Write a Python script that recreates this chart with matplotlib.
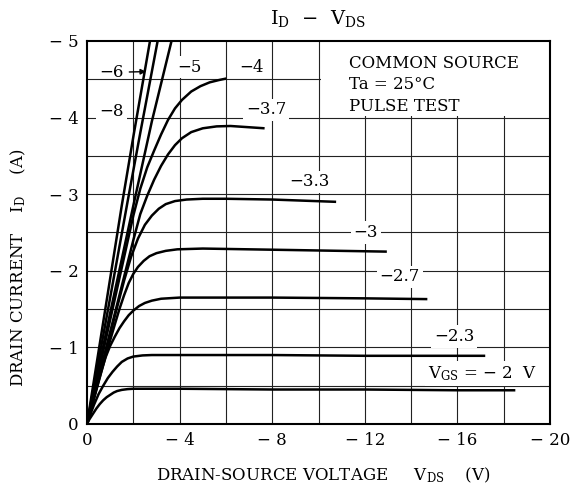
import matplotlib
matplotlib.use('Agg')
import matplotlib.pyplot as plt
from matplotlib.patches import Rectangle

plt.rcParams['font.family'] = 'DejaVu Serif'
plt.rcParams['mathtext.fontset'] = 'dejavuserif'

# Кривые I_D(V_DS), значения по модулю (V, A)
v_2 = [0, 0.1, 0.25, 0.4, 0.55, 0.7, 0.85, 1.0, 1.15, 1.3, 1.5, 1.75, 2.0, 3, 4, 8, 12, 16, 18.5]
i_2 = [0, 0.06, 0.13, 0.2, 0.26, 0.31, 0.35, 0.38, 0.41, 0.43, 0.445, 0.455, 0.46, 0.46, 0.46,
       0.45, 0.45, 0.44, 0.44]

v_23 = [0, 0.15, 0.3, 0.5, 0.7, 0.9, 1.1, 1.3, 1.5, 1.75, 2.0, 2.4, 2.8, 4, 8, 12, 17.2]
i_23 = [0, 0.13, 0.25, 0.39, 0.50, 0.60, 0.68, 0.75, 0.81, 0.855, 0.88, 0.895, 0.90, 0.90,
        0.90, 0.89, 0.89]

v_27 = [0, 0.2, 0.4, 0.6, 0.8, 1.0, 1.2, 1.4, 1.6, 1.8, 2.0, 2.25, 2.5, 2.8, 3.2, 4, 8, 12, 14.7]
i_27 = [0, 0.23, 0.45, 0.67, 0.87, 1.02, 1.14, 1.25, 1.34, 1.42, 1.48, 1.54, 1.58, 1.61, 1.635,
        1.65, 1.65, 1.64, 1.63]

v_3 = [0, 0.3, 0.6, 0.9, 1.2, 1.4, 1.6, 1.8, 2.0, 2.2, 2.45, 2.7, 3.0, 3.4, 3.9, 5, 9, 12.95]
i_3 = [0, 0.33, 0.66, 0.99, 1.30, 1.50, 1.68, 1.84, 1.96, 2.05, 2.13, 2.19, 2.23, 2.26, 2.28,
       2.29, 2.27, 2.25]

v_33 = [0, 0.4, 0.8, 1.2, 1.6, 1.9, 2.2, 2.5, 2.8, 3.1, 3.4, 3.8, 4.3, 5, 6, 8, 10.76]
i_33 = [0, 0.47, 0.94, 1.41, 1.87, 2.18, 2.42, 2.60, 2.72, 2.81, 2.87, 2.91, 2.93, 2.94, 2.94,
        2.93, 2.90]

v_37 = [0, 0.5, 1.0, 1.5, 2.0, 2.3, 2.6, 2.9, 3.2, 3.5, 3.8, 4.1, 4.5, 5.0, 5.6, 6.2, 7.67]
i_37 = [0, 0.6, 1.2, 1.8, 2.40, 2.74, 2.98, 3.19, 3.37, 3.52, 3.64, 3.73, 3.81, 3.86, 3.885,
        3.89, 3.86]

v_4 = [0, 0.5, 1.0, 1.5, 2.0, 2.3, 2.6, 2.9, 3.2, 3.5, 3.8, 4.1, 4.5, 4.9, 5.3, 5.7, 6.02]
i_4 = [0, 0.68, 1.36, 2.04, 2.72, 3.07, 3.35, 3.57, 3.78, 3.97, 4.12, 4.23, 4.34, 4.41, 4.46,
       4.49, 4.51]

v_5 = [0, 1.0, 2.0, 2.8, 3.65]
i_5 = [0, 1.45, 2.85, 3.95, 5.0]

v_6 = [0, 1.0, 1.75, 2.3, 3.05]
i_6 = [0, 1.65, 2.9, 3.8, 5.0]

v_8 = [0, 1.0, 1.5, 2.0, 2.72]
i_8 = [0, 1.9, 2.85, 3.75, 5.0]

curves = [(v_2, i_2), (v_23, i_23), (v_27, i_27), (v_3, i_3), (v_33, i_33),
          (v_37, i_37), (v_4, i_4), (v_5, i_5), (v_6, i_6), (v_8, i_8)]

# Подписи кривых: текст, V, I
labels = ['−8', '−5', '−4', '−3.7', '−3.3', '−3', '−2.7', '−2.3']
label_v = [1.06, 4.44, 7.1, 7.74, 9.6, 12.05, 13.5, 15.86]
label_i = [4.08, 4.66, 4.66, 4.10, 3.16, 2.50, 1.92, 1.14]

x_ticks = [0, 4, 8, 12, 16, 20]
x_ticklabels = ['0', '− 4', '− 8', '− 12', '− 16', '− 20']
y_ticks = [0, 1, 2, 3, 4, 5]
y_ticklabels = ['0', '− 1', '− 2', '− 3', '− 4', '− 5']

fig = plt.figure(figsize=(5.79, 4.93), dpi=100)
ax = fig.add_axes([0.1503, 0.140, 0.7997, 0.7769])

# Сетка
for gx in range(2, 20, 2):
    ax.axvline(-gx, color='#222222', lw=0.8, zorder=1)
for gy in [0.5, 1, 1.5, 2, 2.5, 3, 3.5, 4, 4.5]:
    ax.axhline(-gy, color='#222222', lw=0.8, zorder=1)

# Белое поле под текстом условий
ax.add_patch(Rectangle((-10.1, -4.02), -9.9, -0.98, facecolor='white',
                       edgecolor='none', zorder=2))

for v, i in curves:
    ax.plot([-a for a in v], [-b for b in i], color='black', lw=1.8,
            zorder=4, solid_capstyle='butt', solid_joinstyle='round')

box = dict(facecolor='white', edgecolor='none', pad=2)
for t, v, i in zip(labels, label_v, label_i):
    ax.text(-v, -i, t, fontsize=12, ha='center', va='center', bbox=box, zorder=3)

ax.annotate('−6', xy=(-2.55, -4.6), xytext=(-1.06, -4.59), fontsize=12,
            ha='center', va='center', zorder=3,
            arrowprops=dict(arrowstyle='-|>', color='black', lw=1.0,
                            mutation_scale=8, shrinkA=2, shrinkB=0))

ax.text(-17.08, -0.66, r'V$_{\mathrm{GS}}$ = − 2  V', fontsize=12,
        ha='center', va='center', bbox=box, zorder=3)

ax.text(-11.3, -4.71, 'COMMON SOURCE', fontsize=12, ha='left', va='center', zorder=3)
ax.text(-11.3, -4.43, 'Ta = 25°C', fontsize=12, ha='left', va='center', zorder=3)
ax.text(-11.3, -4.15, 'PULSE TEST', fontsize=12, ha='left', va='center', zorder=3)

ax.set_xlim(0, -20)
ax.set_ylim(0, -5)
ax.set_xticks([-t for t in x_ticks])
ax.set_xticklabels(x_ticklabels)
ax.set_yticks([-t for t in y_ticks])
ax.set_yticklabels(y_ticklabels)
ax.tick_params(length=0, labelsize=12, pad=6)
for s in ax.spines.values():
    s.set_linewidth(1.5)
    s.set_zorder(5)

fig.text(0.55, 0.963, r'I$_{\mathrm{D}}$  −  V$_{\mathrm{DS}}$', fontsize=14,
         ha='center', va='center')
fig.text(0.558, 0.036, r'DRAIN-SOURCE VOLTAGE     V$_{\mathrm{DS}}$    (V)', fontsize=12,
         ha='center', va='center')
fig.text(0.031, 0.456, r'DRAIN CURRENT    I$_{\mathrm{D}}$    (A)', fontsize=12,
         ha='center', va='center', rotation=90)

fig.savefig('out.png', dpi=100)
